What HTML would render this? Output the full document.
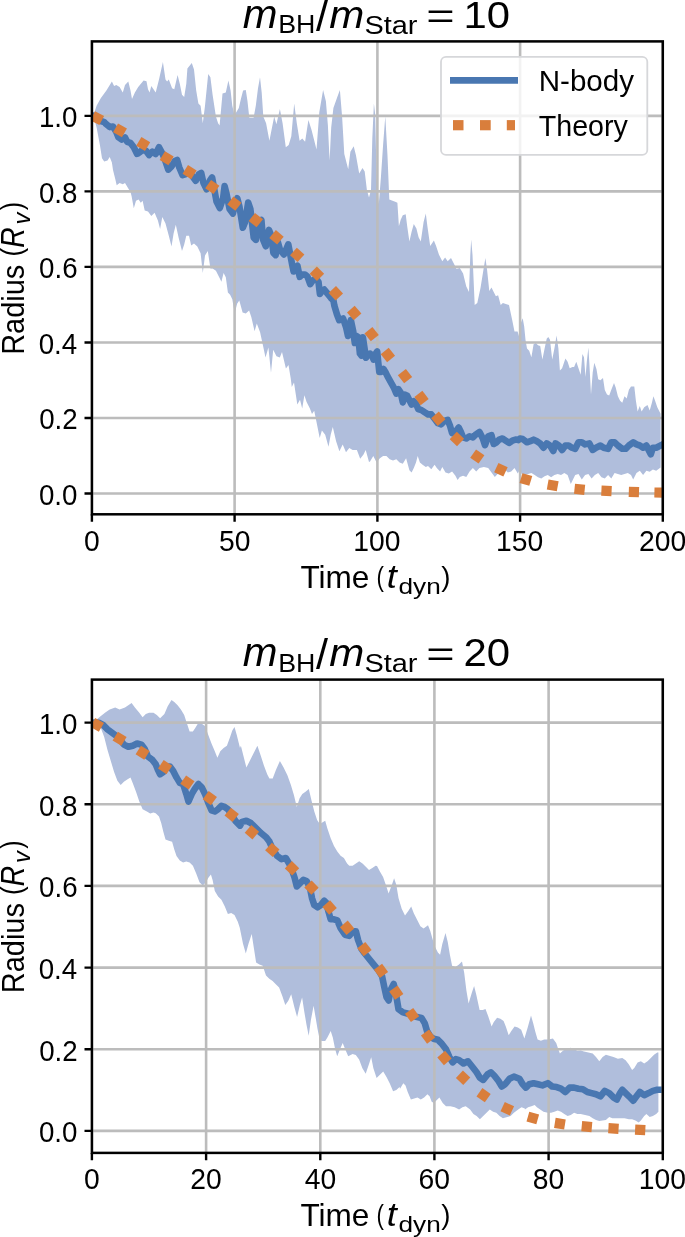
<!DOCTYPE html>
<html><head><meta charset="utf-8"><style>
html,body{margin:0;padding:0;background:#fff;width:685px;height:1237px;overflow:hidden}
svg{display:block;will-change:transform}
text{font-family:"Liberation Sans",sans-serif;fill:#000}
.it{font-style:italic}
</style></head><body>
<svg width="685" height="1237" viewBox="0 0 685 1237">
<clipPath id="c1"><rect x="91.9" y="41.4" width="570.9" height="472.9"/></clipPath>
<g clip-path="url(#c1)">
<polygon points="91.9,115.9 93.3,115.5 96.6,105.7 100.9,98 106.4,90.4 111.9,81.6 114.1,86 116.3,84.9 119.6,87.1 122.8,92.6 125,84.9 128.3,81.6 130.5,90.4 132,99.1 134.9,92.6 138.2,87.1 143.6,80.5 146.5,81.2 148,89.3 149.6,92.6 151.3,86 153.5,89.3 155.7,92.6 159,79.4 162.9,61.9 165.5,79.4 167.1,81.6 168.8,79.4 172.1,88.2 174.3,89.3 177.6,75 179.8,83.8 182,94.7 184.2,96.9 186.3,83.8 187.4,68.5 191.8,63 194,69.6 196.2,90.4 198.4,103.5 200.6,105.7 201.7,114.4 202.8,123.2 205,105.7 208.2,73.9 210.4,77.2 212.6,94.7 215.9,116.6 218.1,123.2 219.6,125.4 221.4,105.7 222.5,93.6 225.8,92.6 228.4,80.5 230.6,90.4 232.3,105.7 234.5,115.5 235.5,113.4 238.8,107.9 240.9,99.1 243.1,90.4 245.8,89.9 247.5,101.3 249.3,117.7 253.6,117.7 255.8,105.7 258,88.2 260,77.2 261.7,92.6 263.3,116.6 266.1,123.2 269.4,140.7 272,127.6 274.2,116.6 276.4,124.3 279.9,109 282.6,123.2 285.8,147.3 288.7,145.1 291.3,136.3 294.2,103.5 296.8,123.2 299.6,140.7 302.3,138.5 305.1,141.8 308.4,119.9 311.5,129.8 314.3,140.7 316.5,149.5 319.3,112.3 323.1,89.9 325.9,101.3 327.9,125.4 329.6,160.4 331.2,127.6 333.4,107.9 337.3,96.9 339.9,89.9 342.1,116.6 344.3,153.9 348.2,169.2 350.4,151.7 353.7,146.2 355.9,155 359.2,173.6 362.5,168.1 364.7,171.4 366.9,190 369,197.5 371,190 372.3,138.5 373.9,103.5 375.2,114.4 376.6,177.6 378.8,203.9 380.9,177.6 383.1,144.7 385.3,116.3 387.5,155.7 389.3,199.5 391.9,200.6 395.2,201.7 397.4,202.8 398.9,226.3 400.7,219.7 402.8,215.3 405.7,214.2 407.2,226.3 409.4,241.6 411.6,231.7 413.8,224.1 416.4,228.5 418.6,237.2 420.8,241.6 423.6,221.9 425.8,213.6 427.4,226.3 430.2,246 432.4,242.7 433.9,240.5 436.1,246 439,254.7 442.3,261.3 445.1,257.4 447.7,261.3 451,258 454.3,264.6 456.5,269 459.8,267.9 463.1,273.4 466.3,286.5 469,292 470.3,254.7 471.2,239.4 472.5,254.7 474.7,305.1 477.3,302.9 480.6,287.6 483.4,270.1 485.4,258 487.1,270.1 489.3,290.9 491.5,287.6 493.7,292 495.9,296.3 498.1,295.2 500.7,305.1 502.9,302.9 505.8,304 509,305.1 512.3,320.4 514.5,331.4 516.7,331.4 517.6,331.5 519.4,337.6 521.1,322.3 522.7,318.3 524.2,326.6 525.5,339.8 527,348.5 529.2,350.7 531.4,357.3 533.6,344.2 535.8,343.1 538,345.2 540.2,345.9 542.4,359.5 544.6,348.5 546.7,338.7 548.3,337.1 550,339.8 552.2,359.5 554.4,348.5 556.6,335.4 558.4,348.5 559.9,370.4 562.1,368.2 565.4,358.4 567.6,361.7 569.7,368.2 572.4,367.1 574.1,367.1 576.3,361.7 578.5,368.2 580.7,374.8 582.4,354 584,357.3 585.5,377 586.8,361.7 588.4,347.4 589.4,363.9 591,394.5 592.7,372.6 594.3,362.8 596.5,369.3 598.2,379.2 600.4,380.3 603,378.1 604.8,390.1 607,394.5 609.2,395.6 611.3,389.7 614,383.1 615.7,387.5 617.9,396.3 620.1,400.7 622.3,402.8 624.5,396.3 626.7,398.5 628.9,389.7 631,386.4 634.3,386.4 635.9,400.7 637.6,411.6 639.8,406.1 641.6,411.6 644.2,407.2 647.5,405 649.7,410.5 651.9,402.8 653.4,396.3 655.1,400.7 657.3,407.2 660.6,413.8 660.6,467.4 656.2,470.7 652.9,469.6 649.7,471.8 646.4,470.7 643.1,475.1 639.8,470.7 636.5,472.9 633.2,479.5 631,475.1 627.8,472.9 624.5,474 621.2,475.1 617.9,474 614.6,472.9 611.3,478.4 608.1,475.1 604.8,478.4 601.5,477.3 598.2,472.9 594.9,475.1 591.6,478.4 588.4,474 585.1,475.1 581.8,479.5 578.5,474 575.2,475.1 573,479.5 570.8,483.9 567.6,475.1 564.3,472.9 561,475.1 557.7,474 554.4,475.1 551.1,477.3 547.8,475.1 544.6,476.2 541.3,478.4 538,477.3 534.7,475.1 531.4,472.9 528.1,474 524.9,475.1 521.6,474 520,469.2 517.8,473.6 514.5,468.1 511.2,471.4 507.9,472.5 504.7,469.2 501.4,471.4 498.1,473.6 494.8,476.9 491.5,472.5 488.2,468.1 483.9,467 479.5,468.1 476.2,471.4 472.9,468.1 469.6,471.4 466.3,476.9 463.1,475.8 459.8,476.9 457.6,480.1 455.4,475.8 452.1,471.4 448.8,473.6 445.5,472.5 442.3,467 440.1,471.4 436.8,468.1 434.6,464.8 431.3,469.2 428,465.9 425.8,467 422.6,464.8 419.9,462.6 417.7,456 416,462.6 413.8,468.1 411.6,472.5 409.4,470.3 406.1,458.2 402.8,463.7 399.6,462.6 396.3,459.3 393,460.4 389.7,459.3 386.4,456 383.1,456 379.9,458.2 376.6,462.6 373.3,456 370,461.5 369,462.1 365.7,450.1 363.5,454.4 360.2,458.8 356.9,450.1 352.6,450.1 349.3,447.9 346,452.3 342.7,444.6 339.4,451.2 336.1,441.3 332.8,427.1 330.7,434.7 328.5,446.8 325.2,434.7 321.9,430.4 319.7,438 316.4,421.6 314.2,410.7 312,413.9 309.9,408.5 306.6,401.9 304.4,395.3 302.2,408.5 300,399.7 297.3,404.5 294,382.6 291.8,387 290.7,378.2 288.5,365.1 285.9,368.4 282,352 279.8,357.4 276.5,356.3 273.2,349.8 271,372.8 268.4,347.6 265.5,357.4 263.4,347.6 260.1,332.3 256.8,323.5 254.6,331.2 251.3,316.9 249.1,310.4 245.8,313.6 242.6,312.6 239.3,300.5 237.1,303.8 234.9,312.6 234.5,312.3 232.3,299.2 230.1,294.8 227.9,292.6 225.8,277.3 223.6,272.9 221.4,281.7 219.2,277.3 215.9,270.7 212.6,268.5 210.4,268.5 207.8,251 205,255.4 202.8,272.9 200.6,253.2 197.3,246.6 194,243.4 191.2,245.5 189,235.7 186.3,235.7 184.2,244.4 182,251 178.7,237.9 175.8,224.7 173.6,233.5 171.5,246.6 168.8,235.7 165.5,223.6 162.3,217.1 160.1,229.1 157.9,220.4 154.6,212.7 151.3,216 148,211.6 144.7,210.5 142.6,200.7 140.8,202.8 138.6,199.6 136,200.7 133.8,208.3 131.6,196.3 130.5,191.9 128.3,188.6 125,183.1 122.8,184.2 119.6,183.1 116.7,185.3 115.2,178.8 113,170 111.9,162.6 109.7,157.1 107.5,160.4 104.2,161.5 102,158.2 99.9,145.1 96.6,127.6 93.3,115.5 91.9,115.9" fill="#b0bedc"/>
<path d="M91.9 41.4V514.3M234.6 41.4V514.3M377.4 41.4V514.3M520.1 41.4V514.3M662.8 41.4V514.3M91.9 493.5H662.8M91.9 418H662.8M91.9 342.5H662.8M91.9 266.9H662.8M91.9 191.4H662.8M91.9 115.9H662.8" stroke="#bcbcbc" stroke-width="2.6" fill="none" stroke-linecap="square"/>
<polyline points="91.9,115.9 93.3,115.5 97.7,118.4 100.9,121 104.2,122.1 106.4,124.3 109.7,127.1 113,126.5 116.3,132 118.5,137.4 121.7,139.6 125,137.4 127.2,141.8 130.5,142.9 133.8,147.3 137.1,153.9 140.4,151.7 142.6,149.5 145.8,150.6 149.1,155 152.4,151.7 155.7,153.9 159,147.3 162.8,154.4 166.1,163.1 168.3,169.7 171.6,166.4 174.9,160.9 177.1,159.9 179.3,167.5 182.6,175.2 185.8,174.1 189.1,171.9 192.4,176.3 195.7,180.7 199,174.1 201.2,173 203.4,182.8 206.6,189.4 209.9,180.7 212.1,177.4 214.3,189.4 216.5,201.5 219.8,208 223.1,198.2 224.6,186.1 226.3,192.7 229.6,209.1 232.9,213.5 235.5,202.6 237.3,198.2 239.5,206.9 242.8,227.7 245,222.3 248.2,202.6 250.4,209.1 253.7,237.6 255.9,239.8 259.2,222.3 261.4,220.1 263.1,239.8 265.8,246.3 269,229.9 271.2,235.4 273.4,252.9 275.6,255.1 277.8,242 280,249.6 283.9,254.5 286.1,249.6 288.3,244.4 290.5,255.8 292.3,265.4 293.6,271.5 295.3,268 297.5,265.8 299.7,276.8 301.9,274.6 305,274.6 307.6,276.8 310.2,284.2 312.8,280.3 315.9,278.5 318.5,282 319.9,293.9 322,290.8 324.2,289.5 327.3,293.4 330.8,297.8 333.4,300.4 334.4,305.8 337,314.5 339.2,320.2 343.1,318.5 346.2,327.7 348,336 350.8,320 353.2,331.2 354.8,343 356.5,336 358.3,337.2 359.9,353.6 361.4,355.6 362.9,337.2 365,351.5 366,357.7 368,354.6 370.1,353.6 372.1,355.6 373.6,359.7 375.7,353.6 377.2,351.5 378.2,361.7 379.3,372 381.3,372 383.4,368.9 385.4,372 387.4,376.1 394.1,388.2 396.3,393.6 398.5,389.3 400.7,392.6 402.8,402.4 405,394.7 407.2,395.8 409.4,400.2 411.6,404.6 413.8,401.3 416,403.5 418.2,409 421.5,410.1 424.7,412.3 428,414.4 431.3,414.4 434.6,418.8 437.9,423.2 441.2,424.3 444.4,421 447.7,419.9 449.9,425.4 452.1,433.1 455.4,432 458.7,427.6 460.9,432 463.1,437.4 466.3,438.5 469.6,436.3 472.9,437.4 476.2,434.2 479.5,432 482.8,438.5 485,445.1 488.2,436.3 491.5,435.2 493.7,444 495.9,442.9 499.2,439.6 502.5,438.5 505.8,440.7 509,442.9 512.3,440.7 515.6,439.6 518.3,440.1 520,438.5 522.7,439 527,442.3 530.3,441.2 533.6,439.6 536.9,441.2 540.2,443.4 543.5,447.7 546.7,443.4 550,445.5 553.3,451 555.5,443.4 558.8,445.5 562.1,449.9 565.4,445.5 568.6,445.5 571.9,447.7 575.2,448.8 578.5,442.3 581.8,442.3 585.1,444.4 589.4,443.4 592.7,449.9 596,447.7 600.4,445.5 603.7,447.7 608.1,448.8 611.3,442.3 614.6,442.3 617.9,445.5 622.3,448.8 625.6,448.8 628.9,445.5 633.2,442.3 636.5,444.4 639.8,445.5 643.1,447.7 646.4,445.5 648.6,449.9 650.8,454.3 652.9,447.7 656.2,447.7 660.6,445.5" fill="none" stroke="#4977b1" stroke-width="6.6" stroke-linejoin="round" stroke-linecap="square"/>
<rect x="-5.1" y="-5.1" width="10.2" height="10.2" fill="#d97e3c" transform="translate(97.2 118.2) rotate(27.3)"/>
<rect x="-5.1" y="-5.1" width="10.2" height="10.2" fill="#d97e3c" transform="translate(120 130.4) rotate(29.3)"/>
<rect x="-5.1" y="-5.1" width="10.2" height="10.2" fill="#d97e3c" transform="translate(143.2 144) rotate(30.8)"/>
<rect x="-5.1" y="-5.1" width="10.2" height="10.2" fill="#d97e3c" transform="translate(166.7 158.2) rotate(31.2)"/>
<rect x="-5.1" y="-5.1" width="10.2" height="10.2" fill="#d97e3c" transform="translate(189.6 172.1) rotate(32.3)"/>
<rect x="-5.1" y="-5.1" width="10.2" height="10.2" fill="#d97e3c" transform="translate(212.3 187) rotate(35.1)"/>
<rect x="-5.1" y="-5.1" width="10.2" height="10.2" fill="#d97e3c" transform="translate(234.4 203.6) rotate(37.3)"/>
<rect x="-5.1" y="-5.1" width="10.2" height="10.2" fill="#d97e3c" transform="translate(255.8 220.1) rotate(38.7)"/>
<rect x="-5.1" y="-5.1" width="10.2" height="10.2" fill="#d97e3c" transform="translate(276.5 237.3) rotate(40.0)"/>
<rect x="-5.1" y="-5.1" width="10.2" height="10.2" fill="#d97e3c" transform="translate(297.2 254.9) rotate(42.0)"/>
<rect x="-5.1" y="-5.1" width="10.2" height="10.2" fill="#d97e3c" transform="translate(316.9 273.7) rotate(44.8)"/>
<rect x="-5.1" y="-5.1" width="10.2" height="10.2" fill="#d97e3c" transform="translate(335.8 293.2) rotate(46.5)"/>
<rect x="-5.1" y="-5.1" width="10.2" height="10.2" fill="#d97e3c" transform="translate(354.2 313) rotate(48.9)"/>
<rect x="-5.1" y="-5.1" width="10.2" height="10.2" fill="#d97e3c" transform="translate(371.6 334.2) rotate(51.3)"/>
<rect x="-5.1" y="-5.1" width="10.2" height="10.2" fill="#d97e3c" transform="translate(387.9 355) rotate(51.4)"/>
<rect x="-5.1" y="-5.1" width="10.2" height="10.2" fill="#d97e3c" transform="translate(405 376.1) rotate(52.0)"/>
<rect x="-5.1" y="-5.1" width="10.2" height="10.2" fill="#d97e3c" transform="translate(421.5 398) rotate(52.1)"/>
<rect x="-5.1" y="-5.1" width="10.2" height="10.2" fill="#d97e3c" transform="translate(438.3 418.8) rotate(49.2)"/>
<rect x="-5.1" y="-5.1" width="10.2" height="10.2" fill="#d97e3c" transform="translate(456.9 439) rotate(44.0)"/>
<rect x="-5.1" y="-5.1" width="10.2" height="10.2" fill="#d97e3c" transform="translate(477.3 456.5) rotate(35.0)"/>
<rect x="-5.1" y="-5.1" width="10.2" height="10.2" fill="#d97e3c" transform="translate(500.9 469.8) rotate(25.3)"/>
<rect x="-5.1" y="-5.1" width="10.2" height="10.2" fill="#d97e3c" transform="translate(525.9 479.5) rotate(16.8)"/>
<rect x="-5.1" y="-5.1" width="10.2" height="10.2" fill="#d97e3c" transform="translate(552.7 485.4) rotate(10.3)"/>
<rect x="-5.1" y="-5.1" width="10.2" height="10.2" fill="#d97e3c" transform="translate(579.6 489.3) rotate(5.8)"/>
<rect x="-5.1" y="-5.1" width="10.2" height="10.2" fill="#d97e3c" transform="translate(606.5 490.9) rotate(2.8)"/>
<rect x="-5.1" y="-5.1" width="10.2" height="10.2" fill="#d97e3c" transform="translate(633.9 492) rotate(1.8)"/>
<rect x="-5.1" y="-5.1" width="10.2" height="10.2" fill="#d97e3c" transform="translate(659.5 492.6) rotate(1.3)"/>
</g>
<rect x="91.9" y="41.4" width="570.9" height="472.9" fill="none" stroke="#000" stroke-width="2.5" stroke-linejoin="miter"/>
<path d="M91.9 514.3v7.4M234.6 514.3v7.4M377.4 514.3v7.4M520.1 514.3v7.4M662.8 514.3v7.4M91.9 493.5h-7.4M91.9 418h-7.4M91.9 342.5h-7.4M91.9 266.9h-7.4M91.9 191.4h-7.4M91.9 115.9h-7.4" stroke="#000" stroke-width="2.4" fill="none"/>
<clipPath id="c2"><rect x="91.9" y="679.6" width="570.9" height="473.3"/></clipPath>
<g clip-path="url(#c2)">
<polygon points="91.9,722.6 96.6,719.4 100.9,716.1 105.3,712.4 109.7,709.6 115.2,707.4 119.6,709.6 125,707.4 128.3,705.2 131.6,703 134.9,707.4 139.3,712.8 142.6,717.2 145.8,713.9 149.1,712.8 153.5,712.8 156.8,715 160.1,718.3 164.4,713.9 167.7,706.3 171.5,700.1 174.3,701.9 177.6,705.2 180.9,709.6 184.2,715 186.3,721.6 189.6,731.5 192.9,731.5 195.1,728.2 198.4,722.7 201.7,723.8 205,726 208.2,734.7 211.5,743.5 214.8,751.2 217.4,757.7 220.3,751.2 223.6,747.9 226.9,745.7 230.1,736.9 232.3,730.4 234.5,727.1 236.7,734.7 240,747.9 240.9,745.7 243.6,756.6 246.4,767.6 249.7,761 254.1,752.3 257.4,745.7 260.7,755.5 263.9,765.4 267.2,774.2 269.4,778.5 272.7,778.5 276,769.8 279.9,761 283.6,767.6 287.4,775.2 290.9,785.1 293.9,795 296.8,807 299.6,798.2 302.3,793.9 305.5,791.7 308.8,789 311.5,800.4 314.3,811.4 317.1,820.1 319.8,824.1 323.1,821.9 325.2,820.8 327.4,828.5 330.7,838.3 334,846 337.3,851.5 340.6,855.8 343.9,858 347.1,863.5 349.3,865.7 352.6,865.7 355.9,863.5 359.2,861.3 362.5,863.5 365.8,866.8 369,870.1 372.3,867.9 375.6,865.7 377,866.1 379.9,871.6 383.1,877.1 385.8,884.7 388.6,893.5 391.9,884.7 394.1,878.2 396.3,884.7 398.5,897.9 401.7,908.8 405,915.4 408.3,911 411.2,906.6 413.8,913.2 417.1,919.8 420.4,926.3 423.6,928.5 428,925.2 430.2,930.7 432.4,938.4 434.6,946 437.9,952.6 440.1,954.8 442.3,943.9 445.5,932.9 447.7,941.7 449.9,954.8 452.1,965.8 455.4,966.9 458.7,964.7 462,961.4 464.2,972.8 466.4,990.4 468.6,1003.5 471.9,992.6 474.1,986 476.3,994.7 479.6,1010.1 482.8,1010.1 485.5,1009 488.3,1016.6 491.6,1026.5 493.8,1022.1 497.1,1017.7 500.4,1018.8 503.6,1021 505.8,1026.5 508.7,1035.2 511.3,1030.9 514.6,1026.5 517.9,1027.6 521.2,1029.8 524.4,1038.5 527.7,1027.6 531,1015.5 533.2,1023.2 535.4,1032 537.6,1039.6 540.9,1040.7 544.2,1039.6 548.5,1039.6 552.9,1038.5 556.2,1042.9 558.4,1049.5 559.9,1053.6 563.2,1050.4 566.5,1049.3 570.8,1047.7 574.1,1049.3 577.4,1050.8 580.7,1050.4 584,1051.5 588.4,1052.6 592.7,1053.6 596,1056.9 599.3,1061.3 602.6,1056.9 605.9,1054.7 609.2,1055.8 613.5,1056.9 617.9,1058.7 622.3,1058 625.6,1060.2 628.9,1064.6 632.1,1070.1 634.3,1067.9 637.6,1062.4 640.9,1061.3 644.2,1063.5 647.5,1061.3 650.8,1058 654,1054.7 657.3,1052.6 658.4,1052.6 658.4,1111.7 656.2,1113.9 652.9,1116 649.7,1117.1 646.4,1113.9 644.2,1116 640.9,1120.4 638.7,1122.6 635.4,1120.4 632.1,1119.3 628.9,1119.3 624.5,1118.2 620.1,1118.2 615.7,1118.2 612.4,1118.2 609.2,1117.1 605.9,1120 602.6,1120.4 599.3,1120.9 596,1120 592.7,1118.2 589.4,1116 585.1,1115 580.7,1113.9 577.4,1113.9 574.1,1112.8 570.8,1115 567.6,1116 564.3,1113.9 561,1111.7 557.7,1110.6 554.4,1111.7 551.1,1112.8 547.8,1112.8 543.5,1111.7 540.2,1109.5 536.9,1107.3 534.7,1105.1 531.4,1106.2 528.1,1107.3 524.9,1109.5 524.8,1108.4 521.5,1107.3 518.2,1109.5 513.9,1112.8 510.6,1116 507.3,1117.1 502.9,1118.2 499.6,1116 496.3,1112.8 493.1,1111.7 489.8,1109.5 486.5,1112.8 483.2,1116 479.9,1119.3 476.6,1116 473.4,1113.9 470.1,1109.5 465.7,1106.2 462.4,1107.3 459.1,1109.5 454.7,1107.3 450.4,1106.2 446,1106.2 442.7,1102.9 439.4,1097.4 436.1,1100.7 433.9,1102.9 431.7,1101.8 429.6,1096.3 427.4,1094.2 424.1,1097.4 420.8,1099.6 417.5,1097.4 414.2,1098.5 410.9,1099.6 407.7,1092 405.5,1085.4 403.3,1083.2 400,1088.7 399.6,1086.9 396.3,1090.1 393.1,1091.2 389.8,1083.6 386.5,1077 383.2,1071.5 379.9,1074.8 376.6,1078.1 373.4,1068.2 371.2,1057.3 369,1063.9 365.7,1073.7 362.4,1068.2 359.1,1059.5 355.8,1055.1 352.6,1054 348.2,1056.2 344.9,1048.5 342.7,1043.1 339.4,1050.7 337.2,1056.2 335,1048.5 332.8,1037.6 330.7,1031 327.4,1037.6 325.2,1040.9 321.9,1040.9 319.7,1039.8 317.5,1028.8 315.3,1015.7 313.6,1005.8 310.9,1020.1 308.7,1035.8 306.5,1024.8 304.3,1011.7 302.1,997.4 299.9,1005.1 297.1,1017.1 294.4,1007.3 291.2,994.2 288.3,1000.7 285.3,1005.1 282.4,996.3 279.1,987.6 275.8,984.3 272.6,981 269.3,978.8 266,975.5 262.7,965.7 259.4,964.6 256.1,962.4 253.9,948.2 251.7,933.9 248.5,943.8 245.8,953.6 243,943.8 239.7,927.4 237.8,921.7 234.5,915.1 231.2,912.9 227.9,914 224.7,906.3 221.4,899.8 218.1,896.5 214.8,891 212.6,880.1 210.9,874.6 208.2,877.9 206,882.3 202.8,885.5 199.5,882.3 196.2,873.5 192.9,865.8 189.6,862.6 186.3,861.5 183.1,862.6 179.8,860.4 176.5,856 174.3,849.4 172.1,841.7 168.8,840.7 165.5,839.6 163.4,831.9 161.2,823.1 159,816.6 155.7,813.3 153.5,812.5 150.2,813.6 146.9,811.4 142.6,809.2 139.3,801.5 136,791.7 132.7,782.9 130.5,777.4 127.2,779.6 123.9,781.8 120.7,785.1 117.4,780.7 114.1,772 110.8,761 107.5,750.1 104.2,736.9 100.9,728.2 96.6,722.7 91.9,722.6" fill="#b0bedc"/>
<path d="M91.9 679.6V1152.9M206.1 679.6V1152.9M320.3 679.6V1152.9M434.4 679.6V1152.9M548.6 679.6V1152.9M662.8 679.6V1152.9M91.9 1130.9H662.8M91.9 1049.2H662.8M91.9 967.6H662.8M91.9 885.9H662.8M91.9 804.3H662.8M91.9 722.6H662.8" stroke="#bcbcbc" stroke-width="2.6" fill="none" stroke-linecap="square"/>
<polyline points="91.9,722.6 98.8,722.7 103.1,724.9 107.5,729.3 111.9,732.6 116.3,735.8 120.7,740.2 123.9,744.6 128.3,746.8 132.7,745.7 137.1,743.5 141.5,744.6 144.7,749 148,756.6 152.4,759.9 155.7,764.3 157.9,769.8 160.1,774.2 163.4,772 166.6,766.5 169.9,766.5 173.2,770.9 176.5,777.4 179.8,782.9 183.1,784 186.3,793.9 188.5,801.5 191.8,793.9 195.1,788.4 198.4,784 201.7,787.3 205,793.9 208.2,802.6 211.5,810.3 214.8,811.4 218.1,809.2 221.4,805.9 224.7,807 227.9,809.2 232.3,815.8 235.6,821.2 240,825.6 242,821.9 246.4,820.8 250.8,823 255.2,827.4 260.7,832.8 266.1,837.2 269.4,841.6 272.7,849.3 277.1,855.8 281.5,859.1 285.8,858 289.1,863.5 292.4,871.2 294.6,877.7 296.8,886.5 300.1,883.2 303.4,879.9 306.6,881 309.9,887.6 312.1,898.5 314.3,905.1 317.6,907.3 320.9,905.1 324.2,900.7 326.3,902.9 328.5,911.7 330.7,919.3 334,919.3 337.3,920.4 340.6,928.1 345,934.7 349.3,935.8 352.6,931.4 355.9,931.4 358.1,940.1 361.4,948.9 364.6,953.3 369,958.8 374.4,965.3 378.8,970.8 382.1,976.3 384.3,987.2 386.5,997.1 388.7,1000.4 390.9,989.4 393.7,983.9 396.3,996 398.5,1009.1 402.9,1012.4 407.3,1013.5 411.7,1014.6 416,1016.8 421.5,1017.9 424.8,1023.4 427,1031 430.3,1036.5 433.6,1038.7 437.9,1039.8 441.2,1043.1 446,1049.3 449.3,1056.9 452.6,1062.4 455.8,1059.1 459.1,1060.2 463.5,1063.5 467.9,1061.3 472.3,1066.8 476.6,1072.3 479.9,1077.7 483.2,1079.9 487.6,1074.4 490.9,1072.3 494.2,1075.5 498.5,1081 501.8,1086.5 505.1,1084.3 509.5,1078.8 513.9,1076.6 519.4,1078.8 522.7,1084.3 525.9,1087.6 529.2,1084.3 533.6,1083.2 538,1084.3 542.4,1085.4 547.8,1083.2 552.2,1086.5 556.6,1087.1 561,1088.7 565.4,1092 569.7,1087.6 574.1,1087.6 578.5,1088.7 582.9,1089.3 587.3,1092 591.6,1093.1 596,1094.2 600.4,1096.3 604.8,1090.9 609.2,1093.1 613.5,1097.4 616.8,1099.6 620.1,1093.1 622.3,1089.8 625.6,1093.1 628.9,1096.3 633.2,1100.7 636.5,1096.3 639.8,1092 644.2,1095.2 648.6,1093.1 652.9,1090.9 657.3,1089.8 658.4,1089.8" fill="none" stroke="#4977b1" stroke-width="6.6" stroke-linejoin="round" stroke-linecap="square"/>
<rect x="-5.1" y="-5.1" width="10.2" height="10.2" fill="#d97e3c" transform="translate(97 724.9) rotate(30.2)"/>
<rect x="-5.1" y="-5.1" width="10.2" height="10.2" fill="#d97e3c" transform="translate(119.6 738.7) rotate(31.4)"/>
<rect x="-5.1" y="-5.1" width="10.2" height="10.2" fill="#d97e3c" transform="translate(142.6 752.7) rotate(32.0)"/>
<rect x="-5.1" y="-5.1" width="10.2" height="10.2" fill="#d97e3c" transform="translate(165.1 767.1) rotate(33.6)"/>
<rect x="-5.1" y="-5.1" width="10.2" height="10.2" fill="#d97e3c" transform="translate(187.4 782.5) rotate(34.8)"/>
<rect x="-5.1" y="-5.1" width="10.2" height="10.2" fill="#d97e3c" transform="translate(209.8 798.2) rotate(36.1)"/>
<rect x="-5.1" y="-5.1" width="10.2" height="10.2" fill="#d97e3c" transform="translate(231.7 814.8) rotate(38.9)"/>
<rect x="-5.1" y="-5.1" width="10.2" height="10.2" fill="#d97e3c" transform="translate(251.9 832.2) rotate(40.8)"/>
<rect x="-5.1" y="-5.1" width="10.2" height="10.2" fill="#d97e3c" transform="translate(272.3 849.9) rotate(42.0)"/>
<rect x="-5.1" y="-5.1" width="10.2" height="10.2" fill="#d97e3c" transform="translate(292 868.3) rotate(43.9)"/>
<rect x="-5.1" y="-5.1" width="10.2" height="10.2" fill="#d97e3c" transform="translate(311.5 887.6) rotate(46.2)"/>
<rect x="-5.1" y="-5.1" width="10.2" height="10.2" fill="#d97e3c" transform="translate(329.6 907.5) rotate(48.5)"/>
<rect x="-5.1" y="-5.1" width="10.2" height="10.2" fill="#d97e3c" transform="translate(347.1 927.8) rotate(50.1)"/>
<rect x="-5.1" y="-5.1" width="10.2" height="10.2" fill="#d97e3c" transform="translate(364.5 949.2) rotate(51.7)"/>
<rect x="-5.1" y="-5.1" width="10.2" height="10.2" fill="#d97e3c" transform="translate(381 970.8) rotate(53.8)"/>
<rect x="-5.1" y="-5.1" width="10.2" height="10.2" fill="#d97e3c" transform="translate(396.3 992.7) rotate(54.9)"/>
<rect x="-5.1" y="-5.1" width="10.2" height="10.2" fill="#d97e3c" transform="translate(412.1 1015) rotate(54.1)"/>
<rect x="-5.1" y="-5.1" width="10.2" height="10.2" fill="#d97e3c" transform="translate(428.1 1036.6) rotate(53.0)"/>
<rect x="-5.1" y="-5.1" width="10.2" height="10.2" fill="#d97e3c" transform="translate(444.5 1058) rotate(49.6)"/>
<rect x="-5.1" y="-5.1" width="10.2" height="10.2" fill="#d97e3c" transform="translate(463.1 1077.7) rotate(43.6)"/>
<rect x="-5.1" y="-5.1" width="10.2" height="10.2" fill="#d97e3c" transform="translate(483.6 1095.2) rotate(35.1)"/>
<rect x="-5.1" y="-5.1" width="10.2" height="10.2" fill="#d97e3c" transform="translate(507.3 1108.8) rotate(24.9)"/>
<rect x="-5.1" y="-5.1" width="10.2" height="10.2" fill="#d97e3c" transform="translate(532.8 1118) rotate(15.8)"/>
<rect x="-5.1" y="-5.1" width="10.2" height="10.2" fill="#d97e3c" transform="translate(559.9 1123.7) rotate(9.0)"/>
<rect x="-5.1" y="-5.1" width="10.2" height="10.2" fill="#d97e3c" transform="translate(586.8 1126.6) rotate(5.1)"/>
<rect x="-5.1" y="-5.1" width="10.2" height="10.2" fill="#d97e3c" transform="translate(613.5 1128.5) rotate(3.4)"/>
<rect x="-5.1" y="-5.1" width="10.2" height="10.2" fill="#d97e3c" transform="translate(640.2 1129.8) rotate(2.8)"/>
</g>
<rect x="91.9" y="679.6" width="570.9" height="473.3" fill="none" stroke="#000" stroke-width="2.5" stroke-linejoin="miter"/>
<path d="M91.9 1152.9v7.4M206.1 1152.9v7.4M320.3 1152.9v7.4M434.4 1152.9v7.4M548.6 1152.9v7.4M662.8 1152.9v7.4M91.9 1130.9h-7.4M91.9 1049.2h-7.4M91.9 967.6h-7.4M91.9 885.9h-7.4M91.9 804.3h-7.4M91.9 722.6h-7.4" stroke="#000" stroke-width="2.4" fill="none"/>
<text x="84.05" y="550.90" font-size="29.0" textLength="15.73" lengthAdjust="spacingAndGlyphs">0</text>
<text x="218.93" y="550.90" font-size="29.0" textLength="31.45" lengthAdjust="spacingAndGlyphs">50</text>
<text x="353.32" y="550.90" font-size="29.0" textLength="47.18" lengthAdjust="spacingAndGlyphs">100</text>
<text x="496.04" y="550.90" font-size="29.0" textLength="47.18" lengthAdjust="spacingAndGlyphs">150</text>
<text x="639.12" y="550.90" font-size="29.0" textLength="47.18" lengthAdjust="spacingAndGlyphs">200</text>
<text x="38.91" y="504.80" font-size="29.0" textLength="38.50" lengthAdjust="spacingAndGlyphs">0.0</text>
<text x="39.19" y="429.28" font-size="29.0" textLength="38.50" lengthAdjust="spacingAndGlyphs">0.2</text>
<text x="38.63" y="353.76" font-size="29.0" textLength="38.50" lengthAdjust="spacingAndGlyphs">0.4</text>
<text x="39.05" y="278.24" font-size="29.0" textLength="38.50" lengthAdjust="spacingAndGlyphs">0.6</text>
<text x="38.91" y="202.72" font-size="29.0" textLength="38.50" lengthAdjust="spacingAndGlyphs">0.8</text>
<text x="38.91" y="127.20" font-size="29.0" textLength="38.50" lengthAdjust="spacingAndGlyphs">1.0</text>
<text x="300.47" y="587.78" font-size="31.97" textLength="68.96" lengthAdjust="spacingAndGlyphs">Time</text>
<text x="376.56" y="586.29" font-size="28.13" textLength="7.42" lengthAdjust="spacingAndGlyphs">(</text>
<text x="386.80" y="587.86" font-size="33.64" textLength="10.09" lengthAdjust="spacingAndGlyphs" class="it">t</text>
<text x="398.55" y="593.59" font-size="21.50" textLength="42.21" lengthAdjust="spacingAndGlyphs">dyn</text>
<text x="441.32" y="586.29" font-size="28.13" textLength="9.22" lengthAdjust="spacingAndGlyphs">)</text>
<g transform="rotate(-90)"><text x="-354.82" y="23.88" font-size="31.56" textLength="90.17" lengthAdjust="spacingAndGlyphs">Radius</text><text x="-256.54" y="22.16" font-size="28.77" textLength="8.55" lengthAdjust="spacingAndGlyphs">(</text><text x="-247.74" y="24.00" font-size="33.04" textLength="20.24" lengthAdjust="spacingAndGlyphs" class="it">R</text><text x="-224.61" y="29.80" font-size="23.40" textLength="11.94" lengthAdjust="spacingAndGlyphs" class="it">v</text><text x="-210.25" y="22.16" font-size="28.77" textLength="8.33" lengthAdjust="spacingAndGlyphs">)</text></g>
<text x="242.87" y="28.00" font-size="40.00" textLength="34.73" lengthAdjust="spacingAndGlyphs" class="it">m</text>
<text x="278.16" y="33.30" font-size="26.23" textLength="37.20" lengthAdjust="spacingAndGlyphs">BH</text>
<text x="316.10" y="31.08" font-size="41.63" textLength="12.02" lengthAdjust="spacingAndGlyphs">/</text>
<text x="329.17" y="28.00" font-size="38.89" textLength="35.05" lengthAdjust="spacingAndGlyphs" class="it">m</text>
<text x="364.40" y="33.64" font-size="26.48" textLength="53.05" lengthAdjust="spacingAndGlyphs">Star</text>
<text x="426.37" y="27.74" font-size="34.38" textLength="28.42" lengthAdjust="spacingAndGlyphs">=</text>
<text x="463.56" y="27.92" font-size="37.75" textLength="46.51" lengthAdjust="spacingAndGlyphs">10</text>
<text x="84.05" y="1189.10" font-size="29.0" textLength="15.73" lengthAdjust="spacingAndGlyphs">0</text>
<text x="190.25" y="1189.10" font-size="29.0" textLength="31.45" lengthAdjust="spacingAndGlyphs">20</text>
<text x="304.78" y="1189.10" font-size="29.0" textLength="31.45" lengthAdjust="spacingAndGlyphs">40</text>
<text x="418.61" y="1189.10" font-size="29.0" textLength="31.45" lengthAdjust="spacingAndGlyphs">60</text>
<text x="532.86" y="1189.10" font-size="29.0" textLength="31.45" lengthAdjust="spacingAndGlyphs">80</text>
<text x="638.77" y="1189.10" font-size="29.0" textLength="47.18" lengthAdjust="spacingAndGlyphs">100</text>
<text x="38.91" y="1142.20" font-size="29.0" textLength="38.50" lengthAdjust="spacingAndGlyphs">0.0</text>
<text x="39.19" y="1060.54" font-size="29.0" textLength="38.50" lengthAdjust="spacingAndGlyphs">0.2</text>
<text x="38.63" y="978.88" font-size="29.0" textLength="38.50" lengthAdjust="spacingAndGlyphs">0.4</text>
<text x="39.05" y="897.22" font-size="29.0" textLength="38.50" lengthAdjust="spacingAndGlyphs">0.6</text>
<text x="38.91" y="815.56" font-size="29.0" textLength="38.50" lengthAdjust="spacingAndGlyphs">0.8</text>
<text x="38.91" y="733.90" font-size="29.0" textLength="38.50" lengthAdjust="spacingAndGlyphs">1.0</text>
<text x="300.47" y="1225.98" font-size="31.97" textLength="68.96" lengthAdjust="spacingAndGlyphs">Time</text>
<text x="376.56" y="1224.49" font-size="28.13" textLength="7.42" lengthAdjust="spacingAndGlyphs">(</text>
<text x="386.80" y="1226.06" font-size="33.64" textLength="10.09" lengthAdjust="spacingAndGlyphs" class="it">t</text>
<text x="398.55" y="1231.79" font-size="21.50" textLength="42.21" lengthAdjust="spacingAndGlyphs">dyn</text>
<text x="441.32" y="1224.49" font-size="28.13" textLength="9.22" lengthAdjust="spacingAndGlyphs">)</text>
<g transform="rotate(-90)"><text x="-993.22" y="23.88" font-size="31.56" textLength="90.17" lengthAdjust="spacingAndGlyphs">Radius</text><text x="-894.94" y="22.16" font-size="28.77" textLength="8.55" lengthAdjust="spacingAndGlyphs">(</text><text x="-886.14" y="24.00" font-size="33.04" textLength="20.24" lengthAdjust="spacingAndGlyphs" class="it">R</text><text x="-863.01" y="29.80" font-size="23.40" textLength="11.94" lengthAdjust="spacingAndGlyphs" class="it">v</text><text x="-848.65" y="22.16" font-size="28.77" textLength="8.33" lengthAdjust="spacingAndGlyphs">)</text></g>
<text x="242.87" y="666.20" font-size="40.00" textLength="34.73" lengthAdjust="spacingAndGlyphs" class="it">m</text>
<text x="278.16" y="671.50" font-size="26.23" textLength="37.20" lengthAdjust="spacingAndGlyphs">BH</text>
<text x="316.10" y="669.28" font-size="41.63" textLength="12.02" lengthAdjust="spacingAndGlyphs">/</text>
<text x="329.17" y="666.20" font-size="38.89" textLength="35.05" lengthAdjust="spacingAndGlyphs" class="it">m</text>
<text x="364.40" y="671.84" font-size="26.48" textLength="53.05" lengthAdjust="spacingAndGlyphs">Star</text>
<text x="426.37" y="665.94" font-size="34.38" textLength="28.42" lengthAdjust="spacingAndGlyphs">=</text>
<text x="463.40" y="666.12" font-size="38.45" textLength="46.67" lengthAdjust="spacingAndGlyphs">20</text>
<rect x="441" y="56.8" width="206.3" height="98.1" rx="5" ry="5" fill="#fff" fill-opacity="0.8" stroke="#d6d7da" stroke-width="1.8"/>
<line x1="450" y1="80.4" x2="518" y2="80.4" stroke="#4977b1" stroke-width="6.6"/>
<rect x="453.0" y="120.1" width="10.5" height="10.2" fill="#d97e3c"/>
<rect x="480.0" y="120.1" width="10.7" height="10.2" fill="#d97e3c"/>
<rect x="506.8" y="120.1" width="8.2" height="10.2" fill="#d97e3c"/>
<text x="538.74" y="91.23" font-size="29.84" textLength="95.28" lengthAdjust="spacingAndGlyphs">N-body</text>
<text x="538.73" y="135.67" font-size="30.16" textLength="89.19" lengthAdjust="spacingAndGlyphs">Theory</text>
</svg>
</body></html>
